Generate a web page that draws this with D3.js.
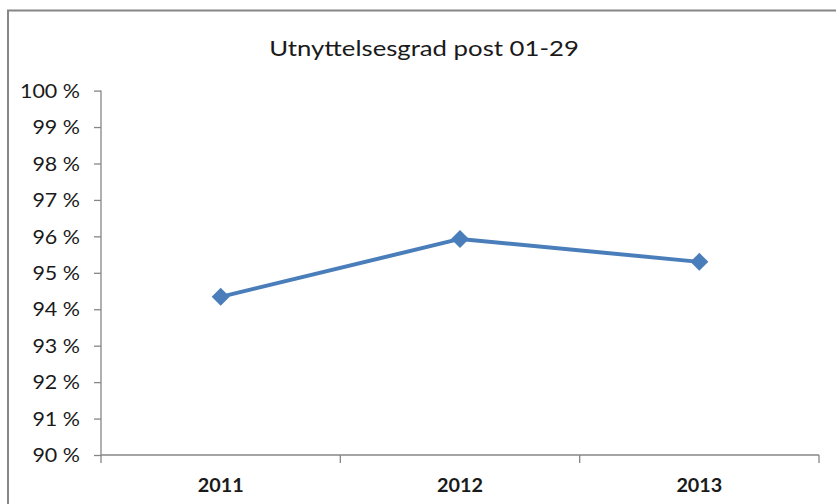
<!DOCTYPE html>
<html>
<head>
<meta charset="utf-8">
<script src="https://cdn.jsdelivr.net/npm/d3@7"></script>
<style>
    body { margin: 0; background: #fff; }
    svg { display: block; }
    .tick text { font-family: Lato, "Open Sans", sans-serif; fill: #1a1a1a; }
</style>
</head>
<body>
<div id="chart"></div>
<script>

const title = "Utnyttelsesgrad post 01-29";
const years = ["2011", "2012", "2013"];
const utilisation = [0.9434, 0.9593, 0.9530];
const yTicks = [0.90, 0.91, 0.92, 0.93, 0.94, 0.95, 0.96, 0.97, 0.98, 0.99, 1.00];

const width = 836, height = 504;
const margin = { top: 90.6, right: 17, bottom: 49, left: 101 };

// the reference text is drawn wider than Lato, so stretch it a bit
const stretchTitle = 1.17, stretchY = 1.13, stretchX = 1.1;

const svg = d3.select("#chart").append("svg")
    .attr("width", width)
    .attr("height", height);

// chart frame (right / bottom edges fall outside the picture)
svg.append("rect")
    .attr("x", 8)
    .attr("y", 10.5)
    .attr("width", 900)
    .attr("height", 600)
    .attr("fill", "none")
    .attr("stroke", "#868686")
    .attr("stroke-width", 2);

svg.append("text")
    .attr("transform", `translate(424,56) scale(${stretchTitle},1)`)
    .attr("text-anchor", "middle")
    .style("font-family", "Lato, 'Open Sans', sans-serif")
    .style("font-size", "22px")
    .style("fill", "#1a1a1a")
    .text(title);

const x = d3.scaleBand()
    .domain(years)
    .range([margin.left, width - margin.right]);

const y = d3.scaleLinear()
    .domain([0.90, 1.00])
    .range([height - margin.bottom, margin.top]);

const pct = d => Math.round(d * 100) + " %";

// y axis
const yAxis = svg.append("g")
    .attr("transform", `translate(${margin.left},0)`)
    .call(d3.axisLeft(y).tickValues(yTicks).tickFormat(pct).tickSize(7).tickPadding(14));
yAxis.selectAll("text")
    .style("font-size", "19px")
    .attr("dy", "0.35em")
    .attr("x", -21 / stretchY)
    .attr("transform", `scale(${stretchY},1)`);
yAxis.selectAll("line, path").attr("stroke", "#868686").attr("stroke-width", 1.3);
yAxis.select(".domain").attr("d", `M0,${y(1.0)}V${y(0.9)}`);

// x axis with ticks between categories
const xAxis = svg.append("g")
    .attr("transform", `translate(0,${height - margin.bottom})`);
xAxis.append("line")
    .attr("x1", margin.left).attr("x2", width - margin.right)
    .attr("stroke", "#868686").attr("stroke-width", 1.3);
const edges = years.map(d => x(d)).concat([x(years[years.length - 1]) + x.bandwidth()]);
xAxis.selectAll(".edge")
    .data(edges)
    .join("line")
    .attr("x1", d => d).attr("x2", d => d)
    .attr("y1", 0).attr("y2", 8)
    .attr("stroke", "#868686").attr("stroke-width", 1.3);
xAxis.selectAll(".lbl")
    .data(years)
    .join("text")
    .attr("transform", d => `translate(${x(d) + x.bandwidth() / 2},37) scale(${stretchX},1)`)
    .attr("text-anchor", "middle")
    .style("font-family", "Lato, 'Open Sans', sans-serif")
    .style("font-size", "18px")
    .style("font-weight", "bold")
    .style("fill", "#1a1a1a")
    .text(d => d);

const points = years.map((d, i) => ({ year: d, value: utilisation[i] }));
const cx = d => x(d.year) + x.bandwidth() / 2;

svg.append("path")
    .datum(points)
    .attr("fill", "none")
    .attr("stroke", "#4A7EBB")
    .attr("stroke-width", 4)
    .attr("stroke-linejoin", "round")
    .attr("d", d3.line().x(cx).y(d => y(d.value)));

svg.append("g")
    .selectAll("path")
    .data(points)
    .join("path")
    .attr("transform", d => `translate(${cx(d)},${y(d.value)})`)
    .attr("d", "M0,-9L9,0L0,9L-9,0Z")
    .attr("fill", "#4A7EBB");

</script>
</body>
</html>
